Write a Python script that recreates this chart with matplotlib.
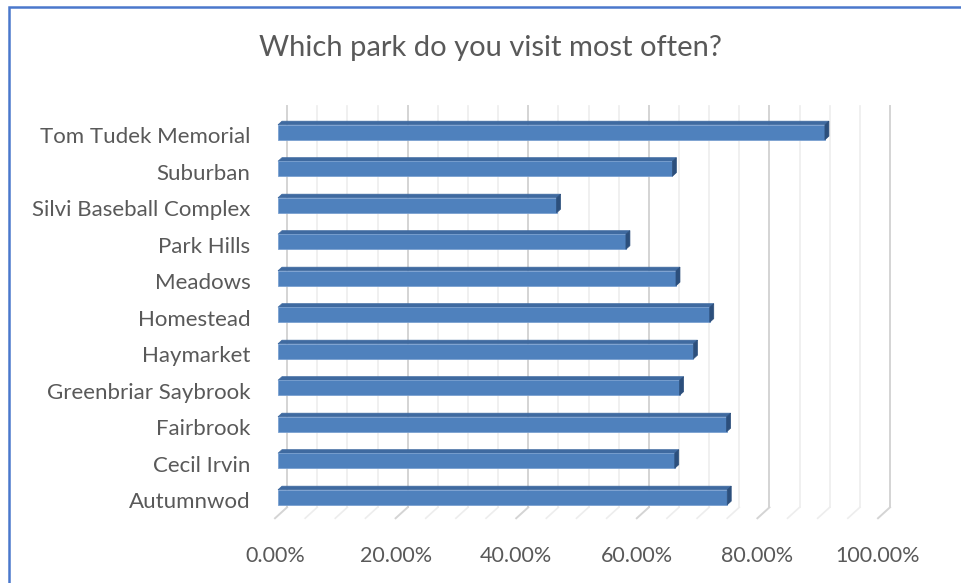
import numpy as np
import matplotlib
matplotlib.use("Agg")
import matplotlib.pyplot as plt
from matplotlib.patches import Polygon, Rectangle

# survey results, bottom row first
parks = ["Autumnwod", "Cecil Irvin", "Fairbrook", "Greenbriar Saybrook",
         "Haymarket", "Homestead", "Meadows", "Park Hills",
         "Silvi Baseball Complex", "Suburban", "Tom Tudek Memorial"]
share = [74.5, 65.8, 74.4, 66.6, 68.9, 71.6, 66.0, 57.7, 46.2, 65.4, 90.7]
xticks = [0, 20, 40, 60, 80, 100]
title = "Which park do you visit most often?"

plt.rcParams['font.family'] = ['Lato', 'DejaVu Sans']
TXT = '#595959'
FRONT = '#4f81bd'
TOP = '#3f6aa0'
SIDE = '#2c4f7c'

# fake 3d depth: full depth shift in data units (percent, rows)
DX, DY = 2.0, 0.30
D0, D1 = 0.25, 0.58     # bar front / back depth
H = 0.41                # bar thickness
PX_PCT, PX_ROW = 6.03, 36.5

fig = plt.figure(figsize=(9.61, 5.83), dpi=100)
W, Hh = 961, 583
x0px, y0px = 275, 500   # pixel of 0% / first row (from top)
xlo, xhi = -2, 104
ylo, yhi = -0.8, 11.2
ax = fig.add_axes([(x0px + xlo * PX_PCT) / W,
                   (Hh - (y0px - ylo * PX_ROW)) / Hh,
                   (xhi - xlo) * PX_PCT / W,
                   (yhi - ylo) * PX_ROW / Hh])
ax.set_xlim(xlo, xhi)
ax.set_ylim(ylo, yhi)
for s in ax.spines.values():
    s.set_visible(False)

# back wall and floor gridlines every 5%
for g in np.arange(0, 101, 5):
    major = g % 20 == 0
    c = '#d4d4d4' if major else '#ededed'
    lw = 1.4 if major else 1.2
    ax.plot([g + DX, g + DX], [-0.5 + DY, 10.5 + DY], color=c, lw=lw, zorder=1)
    ax.plot([g, g + DX], [-0.5, -0.5 + DY], color=c, lw=lw, zorder=1)

ys = np.arange(len(parks))
fx = D0 * DX
fy = D0 * DY
ddx = (D1 - D0) * DX
ddy = (D1 - D0) * DY
ax.barh(ys + fy, share, left=fx, height=H, color=FRONT,
        edgecolor='#7aa0d0', linewidth=0.6, zorder=3)
for y, v in zip(ys, share):
    top = y + fy + H / 2
    bot = y + fy - H / 2
    ax.add_patch(Polygon([(fx, top), (fx + v, top), (fx + v + ddx, top + ddy),
                          (fx + ddx, top + ddy)], closed=True,
                         facecolor=TOP, edgecolor=TOP, lw=0.5, zorder=2))
    ax.add_patch(Polygon([(fx + v, bot), (fx + v, top),
                          (fx + v + ddx, top + ddy), (fx + v + ddx, bot + ddy)],
                         closed=True, facecolor=SIDE, edgecolor=SIDE, lw=0.5,
                         zorder=4))

ax.set_yticks(ys)
ax.set_yticklabels(parks)
ax.set_xticks(xticks)
ax.set_xticklabels(["%.2f%%" % t for t in xticks])
ax.tick_params(axis='both', length=0, colors=TXT)
ax.tick_params(axis='y', pad=9, labelsize=16)
ax.tick_params(axis='x', pad=12, labelsize=15.5)

fig.text(490 / W, 1 - 48 / Hh, title, ha='center', va='center',
         fontsize=21, color=TXT)

# chart border
fig.add_artist(Rectangle((9 / W, -0.05), 1.2, 1 - 7 / Hh + 0.05,
                         transform=fig.transFigure, fill=False,
                         edgecolor='#4a78cc', lw=1.8))

fig.savefig("out.png", dpi=100)
